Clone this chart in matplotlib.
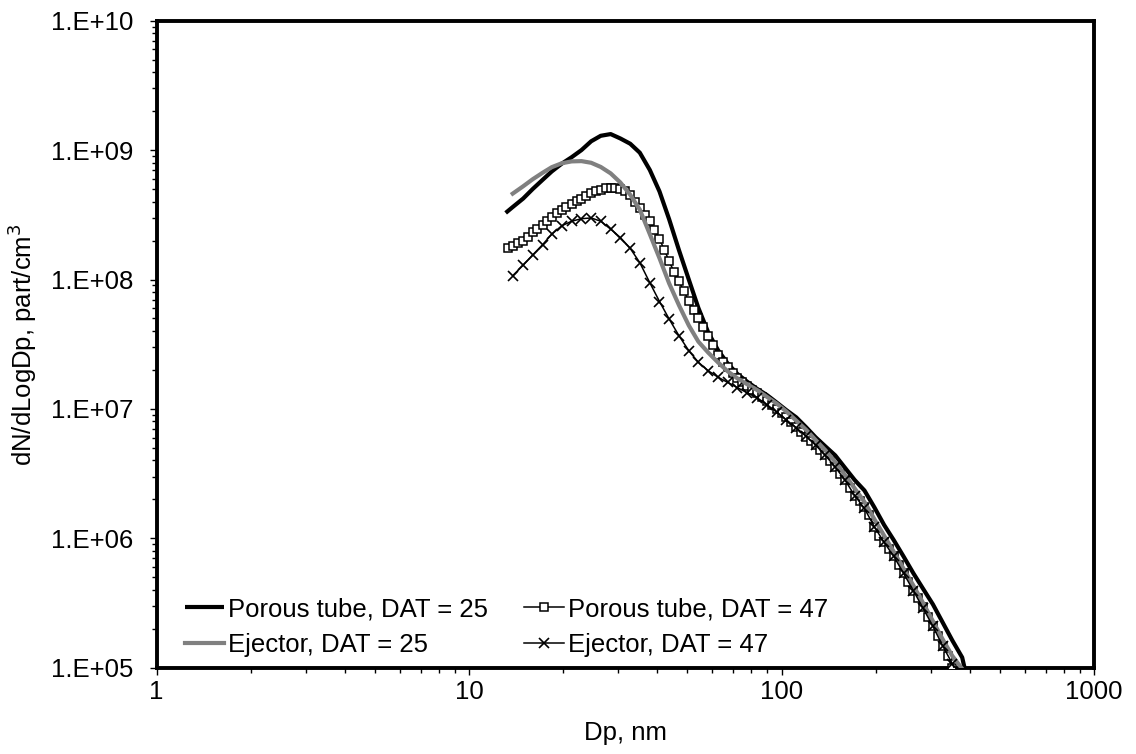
import math
import matplotlib
matplotlib.use("Agg")
import matplotlib.pyplot as plt
from matplotlib.ticker import LogLocator, FuncFormatter, NullFormatter

plt.rcParams['font.family'] = ['Liberation Sans', 'DejaVu Sans']
FS = 18.5

# ---- data ----
dp_porous25 = [13.1, 13.8, 14.9, 16.0, 17.2, 18.4, 19.8, 21.3, 22.9, 24.6, 26.4, 28.4, 30.5, 32.8,
               35.2, 37.9, 40.7, 43.7, 47.0, 50.5, 54.2, 58.3, 62.6, 67.3, 72.3, 77.7, 83.5, 89.8,
               96.5, 103.7, 111.4, 119.7, 128.6, 138.2, 148.6, 159.6, 171.5, 184.3, 198.1, 212.9,
               228.8, 245.8, 264.2, 283.9, 305.1, 327.8, 352.3, 378.6, 406.9]
n_porous25 = [3.27e8, 3.63e8, 4.22e8, 5.01e8, 5.89e8, 6.84e8, 7.85e8, 8.81e8, 1.0e9, 1.17e9, 1.29e9,
              1.33e9, 1.23e9, 1.12e9, 9.55e8, 7.02e8, 4.79e8, 2.92e8, 1.68e8, 1.0e8, 6.03e7, 3.89e7,
              2.85e7, 2.24e7, 1.86e7, 1.62e7, 1.43e7, 1.28e7, 1.12e7, 9.77e6, 8.61e6, 7.24e6, 6.03e6,
              5.13e6, 4.37e6, 3.51e6, 2.82e6, 2.34e6, 1.74e6, 1.27e6, 9.66e5, 7.24e5, 5.37e5, 4.07e5,
              3.09e5, 2.24e5, 1.62e5, 1.20e5, 5.6e4]

dp_ejector25 = [13.8, 14.9, 16.0, 17.2, 18.4, 19.8, 21.3, 22.9, 24.6, 26.4, 28.4, 30.5, 32.8,
                35.2, 37.9, 40.7, 43.7, 47.0, 50.5, 54.2, 58.3, 62.6, 67.3, 72.3, 77.7, 83.5, 89.8,
                96.5, 103.7, 111.4, 119.7, 128.6, 138.2, 148.6, 159.6, 171.5, 184.3, 198.1, 212.9,
                228.8, 245.8, 264.2, 283.9, 305.1, 327.8, 352.3, 378.6, 406.9]
n_ejector25 = [4.61e8, 5.25e8, 5.96e8, 6.68e8, 7.38e8, 7.91e8, 8.18e8, 8.22e8, 7.98e8, 7.41e8, 6.61e8,
               5.62e8, 4.52e8, 3.47e8, 2.24e8, 1.46e8, 9.33e7, 6.31e7, 4.42e7, 3.31e7, 2.72e7, 2.29e7,
               1.95e7, 1.72e7, 1.55e7, 1.40e7, 1.24e7, 1.10e7, 9.55e6, 8.13e6, 6.92e6, 5.75e6, 4.79e6,
               3.89e6, 3.09e6, 2.43e6, 1.91e6, 1.41e6, 1.05e6, 7.85e5, 5.82e5, 4.32e5, 3.16e5, 2.29e5,
               1.66e5, 1.23e5, 9.8e4, 6.3e4]

dp_porous47 = [13.3, 13.8, 14.3, 14.9, 15.4, 16.0, 16.5, 17.2, 17.8, 18.4, 19.1, 19.8, 20.5, 21.3,
               22.1, 22.9, 23.7, 24.6, 25.5, 26.4, 27.4, 28.4, 29.4, 30.5, 31.6, 32.8, 34.0, 35.2,
               36.5, 37.9, 39.2, 40.7, 42.2, 43.7, 45.3, 47.0, 48.7, 50.5, 52.3, 54.2, 56.2, 58.3,
               60.4, 62.6, 64.9, 67.3, 69.8, 72.3, 75.0, 77.7, 80.6, 83.5, 86.6, 89.8, 93.1, 96.5,
               100.0, 103.7, 107.5, 111.4, 115.5, 119.7, 124.1, 128.6, 133.2, 138.2, 143.3, 148.6,
               154.0, 159.6, 165.5, 171.5, 177.8, 184.3, 191.1, 198.1, 205.4, 212.9, 220.7, 228.8,
               237.2, 245.8, 254.8, 264.2, 273.8, 283.9, 294.3, 305.1, 316.2, 327.8, 339.8, 352.3,
               365.2]
n_porous47 = [1.74e8, 1.82e8, 1.91e8, 2.00e8, 2.14e8, 2.32e8, 2.45e8, 2.63e8, 2.82e8, 3.02e8, 3.24e8,
              3.43e8, 3.63e8, 3.85e8, 4.03e8, 4.22e8, 4.42e8, 4.62e8, 4.79e8, 4.95e8, 5.07e8, 5.13e8,
              5.13e8, 5.01e8, 4.79e8, 4.47e8, 3.98e8, 3.55e8, 3.16e8, 2.82e8, 2.43e8, 2.04e8, 1.70e8,
              1.38e8, 1.15e8, 9.66e7, 8.13e7, 6.84e7, 5.82e7, 5.01e7, 4.27e7, 3.63e7, 3.09e7, 2.63e7,
              2.32e7, 2.09e7, 1.91e7, 1.74e7, 1.62e7, 1.51e7, 1.41e7, 1.32e7, 1.23e7, 1.15e7, 1.07e7,
              1.00e7, 9.33e6, 8.61e6, 7.94e6, 7.24e6, 6.61e6, 6.10e6, 5.69e6, 5.25e6, 4.79e6, 4.37e6,
              3.94e6, 3.55e6, 3.16e6, 2.82e6, 2.45e6, 2.14e6, 1.95e6, 1.74e6, 1.51e6, 1.23e6, 1.05e6,
              9.33e5, 8.32e5, 7.24e5, 6.17e5, 5.37e5, 4.57e5, 3.94e5, 3.43e5, 2.92e5, 2.48e5, 2.09e5,
              1.76e5, 1.48e5, 1.23e5, 1.00e5, 7.9e4]

dp_ejector47 = [13.8, 14.9, 16.0, 17.2, 18.4, 19.8, 21.3, 22.9, 24.6, 26.4, 28.4, 30.5, 32.8,
                35.2, 37.9, 40.7, 43.7, 47.0, 50.5, 54.2, 58.3, 62.6, 67.3, 72.3, 77.7, 83.5, 89.8,
                96.5, 103.7, 111.4, 119.7, 128.6, 138.2, 148.6, 159.6, 171.5, 184.3, 198.1, 212.9,
                228.8, 245.8, 264.2, 283.9, 305.1, 327.8, 352.3, 378.6]
n_ejector47 = [1.07e8, 1.29e8, 1.55e8, 1.86e8, 2.24e8, 2.60e8, 2.82e8, 2.95e8, 2.99e8, 2.82e8, 2.45e8,
               2.11e8, 1.74e8, 1.35e8, 9.44e7, 6.76e7, 4.95e7, 3.67e7, 2.82e7, 2.29e7, 1.97e7, 1.76e7,
               1.60e7, 1.46e7, 1.33e7, 1.22e7, 1.08e7, 9.44e6, 8.22e6, 7.16e6, 6.17e6, 5.25e6, 4.37e6,
               3.55e6, 2.82e6, 2.14e6, 1.70e6, 1.23e6, 9.33e5, 7.24e5, 5.37e5, 3.94e5, 2.88e5, 2.09e5,
               1.48e5, 1.07e5, 7.1e4]

labels = ["Porous tube, DAT = 25", "Ejector, DAT = 25",
          "Porous tube, DAT = 47", "Ejector, DAT = 47"]
xlabel = "Dp, nm"
ylabel = "dN/dLogDp, part/cm$^3$"
x_ticks = [1, 10, 100, 1000]
y_ticks = [1e5, 1e6, 1e7, 1e8, 1e9, 1e10]

# ---- figure ----
fig = plt.figure(figsize=(11.36, 7.54), dpi=100)
ax = fig.add_axes([156.5 / 1136, 1 - 667.7 / 754, (1094 - 156.5) / 1136, (667.7 - 20.7) / 754])

l1, = ax.plot(dp_porous25, n_porous25, color='black', lw=3.0, solid_capstyle='butt', zorder=2)
l3, = ax.plot(dp_porous47, n_porous47, color='black', lw=1.1, marker='s', ms=5.2,
              mfc='white', mec='black', mew=1.1, zorder=3)
l2, = ax.plot(dp_ejector25, n_ejector25, color='#808080', lw=3.0, zorder=4)
l4, = ax.plot(dp_ejector47, n_ejector47, color='black', lw=1.1, marker='x', ms=7.5,
              mec='black', mew=1.2, zorder=5)

ax.set_xscale('log')
ax.set_yscale('log')
ax.set_xlim(1, 1000)
ax.set_ylim(1e5, 1e10)

ax.xaxis.set_minor_locator(LogLocator(base=10, subs=range(2, 10), numticks=30))
ax.yaxis.set_minor_locator(LogLocator(base=10, subs=range(2, 10), numticks=30))
ax.set_xticks(x_ticks)
ax.set_xticklabels([str(v) for v in x_ticks])
ax.set_yticks(y_ticks)
ax.yaxis.set_major_formatter(FuncFormatter(lambda v, p: "1.E+%02d" % round(math.log10(v))))
ax.xaxis.set_minor_formatter(NullFormatter())
ax.yaxis.set_minor_formatter(NullFormatter())

ax.tick_params(which='major', direction='out', length=5, width=1.0, labelsize=FS, color='black')
ax.tick_params(which='minor', direction='out', length=3.5, width=1.0, color='black')
ax.tick_params(axis='y', which='major', pad=12)
ax.tick_params(axis='x', which='major', pad=4)
ax.tick_params(top=False, right=False, which='both')

for s in ax.spines.values():
    s.set_linewidth(2.8)
    s.set_color('black')

ax.set_xlabel(xlabel, fontsize=FS, labelpad=12)
ax.set_ylabel(ylabel, fontsize=FS, labelpad=8)

ax.legend([l1, l2, l3, l4], labels, ncol=2, loc='lower left', bbox_to_anchor=(0.03, 0.016),
          frameon=False, fontsize=FS, handlelength=1.55, handletextpad=0.15,
          columnspacing=1.4, labelspacing=0.48, borderpad=0, borderaxespad=0)

fig.savefig("out.png", dpi=100)
